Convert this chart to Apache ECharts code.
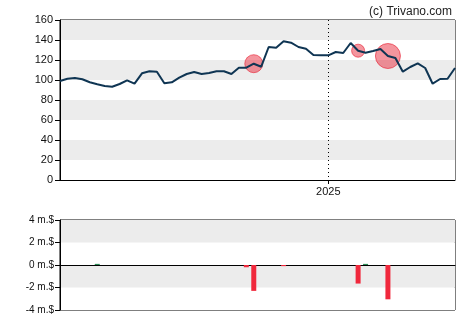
<!DOCTYPE html>
<html>
<head>
<meta charset="utf-8">
<script src="https://cdn.jsdelivr.net/npm/echarts@6/dist/echarts.min.js"></script>
<style>html,body{margin:0;padding:0;background:#fff}#c{width:470px;height:325px}</style>
</head>
<body>
<div id="c"></div>
<script>
const categories = ['2024-04-24','2024-05-01','2024-05-08','2024-05-15','2024-05-22','2024-05-29','2024-06-05','2024-06-12','2024-06-19','2024-06-26',
'2024-07-03','2024-07-10','2024-07-17','2024-07-24','2024-07-31','2024-08-07','2024-08-14','2024-08-21','2024-08-28','2024-09-04',
'2024-09-11','2024-09-18','2024-09-25','2024-10-02','2024-10-09','2024-10-16','2024-10-23','2024-10-30','2024-11-06','2024-11-13',
'2024-11-20','2024-11-27','2024-12-04','2024-12-11','2024-12-18','2024-12-25','2025-01-01','2025-01-08','2025-01-15','2025-01-22',
'2025-01-29','2025-02-05','2025-02-12','2025-02-19','2025-02-26','2025-03-05','2025-03-12','2025-03-19','2025-03-26','2025-04-02',
'2025-04-09','2025-04-16','2025-04-23','2025-04-30'];
const price = [99,101.3,102,100.7,97.7,95.7,94,93.3,96,99.7,
96.3,106.7,108.7,108.3,96.7,97.7,102.3,106,108,106,
107,108.7,108.7,106,112.3,112.3,116.3,113.3,133,132.3,
138.7,137.3,133,131.3,125,124.7,124.7,128,127,137,
129.3,127.3,129,131,124,122,108.3,113,116.7,112,
96.3,101,101.3,112];
const priceTicks = [0,20,40,60,80,100,120,140,160];
const tradeDates = ['2024-05-29','2024-10-16','2024-10-23','2024-11-20','2025-01-29','2025-02-05','2025-02-26'];
const tradeValues = [0.1,-0.2,-2.3,-0.1,-1.65,0.1,-3.05];
const bubbleDates = ['2024-10-23','2025-01-29','2025-02-26'];
const bubbleSizes = [18,13,25];
const yearLabel = '2025';

const yearIdx = categories.indexOf('2025-01-01');
const font = 'Liberation Sans, Arial, sans-serif';
const barData = categories.map(() => null);
tradeDates.forEach((d, i) => {
  const idx = categories.indexOf(d);
  barData[idx] = {value: tradeValues[i], itemStyle: {color: tradeValues[i] >= 0 ? '#2e8b57' : '#f0283c'}};
});
const bubbleData = bubbleDates.map((d, i) => {
  const idx = categories.indexOf(d);
  return {value: [d, price[idx]], symbolSize: bubbleSizes[i]};
});

const chart = echarts.init(document.getElementById('c'), null, {renderer: 'canvas'});
chart.setOption({
  animation: false,
  title: {text: '(c) Trivano.com', right: 13, top: 1, textStyle: {fontFamily: font, fontSize: 12, fontWeight: 'normal', color: '#222'}},
  grid: [
    {left: 60, top: 20, right: 15, height: 160, show: true, borderColor: '#000', borderWidth: 1},
    {left: 60, top: 220, right: 15, height: 90, show: true, borderColor: '#000', borderWidth: 1}
  ],
  xAxis: [
    {type: 'category', gridIndex: 0, data: categories, boundaryGap: false,
     axisLine: {lineStyle: {color: '#000'}},
     axisTick: {show: true, interval: (i) => i === yearIdx, length: 4, lineStyle: {color: '#000'}},
     axisLabel: {interval: (i) => i === yearIdx, formatter: (v) => v === '2025-01-01' ? yearLabel : '', fontFamily: font, fontSize: 11, color: '#111', margin: 6},
     splitLine: {show: true, interval: (i) => i === yearIdx, lineStyle: {color: '#000', type: [1, 3], width: 1}}},
    {type: 'category', gridIndex: 1, data: categories, boundaryGap: false,
     axisLine: {onZero: true, lineStyle: {color: '#000'}},
     axisTick: {show: false}, axisLabel: {show: false}, splitLine: {show: false}}
  ],
  yAxis: [
    {type: 'value', gridIndex: 0, min: 0, max: 160, interval: 20,
     axisLine: {show: true, lineStyle: {color: '#000'}},
     axisTick: {show: true, length: 5, lineStyle: {color: '#000'}},
     axisLabel: {fontFamily: font, fontSize: 11, color: '#111', margin: 7},
     splitLine: {show: false},
     splitArea: {show: true, areaStyle: {color: ['#ffffff', '#ececec']}}},
    {type: 'value', gridIndex: 1, min: -4, max: 4, interval: 2,
     axisLine: {show: true, lineStyle: {color: '#000'}},
     axisTick: {show: true, length: 5, lineStyle: {color: '#000'}},
     axisLabel: {fontFamily: font, fontSize: 10, color: '#111', margin: 6, formatter: (v) => v + ' m.$'},
     splitLine: {show: false},
     splitArea: {show: true, areaStyle: {color: ['#ffffff', '#ececec']}}}
  ],
  series: [
    {type: 'scatter', xAxisIndex: 0, yAxisIndex: 0, data: bubbleData, z: 2,
     itemStyle: {color: 'rgba(232,25,45,0.58)', borderColor: 'rgba(232,25,45,0.75)', borderWidth: 1}},
    {type: 'line', xAxisIndex: 0, yAxisIndex: 0, data: price, z: 3, symbol: 'none',
     lineStyle: {color: '#0f3553', width: 2}},
    {type: 'bar', xAxisIndex: 1, yAxisIndex: 1, data: barData, barWidth: 5, barGap: '-100%'}
  ]
});
</script>
</body>
</html>
